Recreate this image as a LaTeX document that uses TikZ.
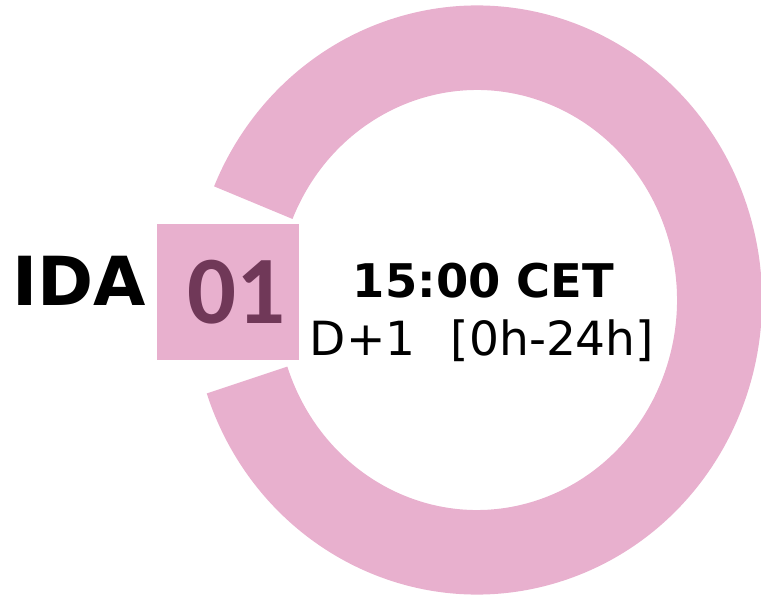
\documentclass[tikz,border=0pt]{standalone}
\usepackage{fontspec}
\usepackage{tikz}
\setsansfont{DejaVu Sans}
\newfontfamily\digitfont{Carlito}
\usetikzlibrary{positioning}
\definecolor{idapink}{RGB}{232,176,206}
\definecolor{idaplum}{RGB}{112,56,88}
\newcommand\ringouter{285 and 294.5}
\tikzstyle{ringpart} = [fill=idapink]

\begin{document}
\begin{tikzpicture}[x=0.02cm,y=0.02cm,
                      big label/.style={font=\sffamily\bfseries\fontsize{38.5}{42}\selectfont,inner sep=0pt},
                      time label/.style={font=\sffamily\bfseries\fontsize{26.4}{30}\selectfont,inner sep=0pt},
                      range label/.style={font=\sffamily\fontsize{26.8}{30}\selectfont,inner sep=0pt},
                      num box/.style={fill=idapink,minimum width=2.84cm,minimum height=2.72cm,inner sep=0pt},
                      num label/.style={font=\digitfont\bfseries\fontsize{55}{60}\selectfont,text=idaplum,inner sep=0pt}]
  \useasboundingbox (0,0) rectangle (761,596);

  % ring with a gap on the left
  \begin{scope}[shift={(477,296)}]
    \fill[ringpart] (198.5:\ringouter)
      arc[start angle=198.5,end angle=517.3,x radius=285,y radius=294.5]
      -- (157.3:200 and 210)
      arc[start angle=157.3,end angle=-161.5,x radius=200,y radius=210]
      -- cycle;
  \end{scope}

  \node[num box] (box) at (228,304) {};
  \node[num label,anchor=base] (num) at (236,273) {01};
  \node[big label,anchor=base] (ida) at (79.5,291) {IDA};

  \node[time label,anchor=base] (time) at (483.5,299) {15:00 CET};
  \node[range label,anchor=base] (range) at (482,241) {D+1\hspace{0.75em}[0h-24h]};
\end{tikzpicture}
\end{document}
